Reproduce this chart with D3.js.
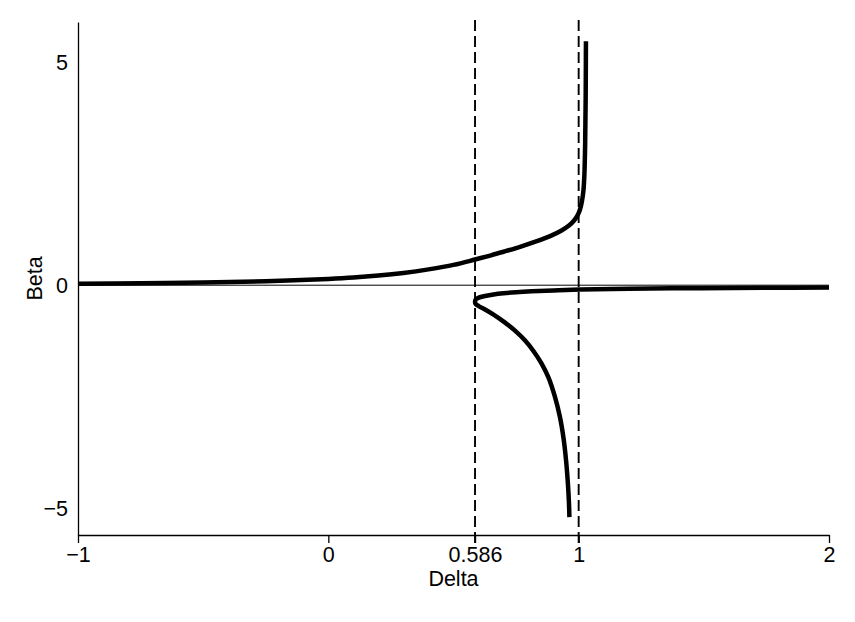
<!DOCTYPE html>
<html>
<head>
<meta charset="utf-8">
<script src="https://cdn.jsdelivr.net/npm/d3@7"></script>
<style>
  body { margin: 0; background: #fff; }
  text { font-family: "Liberation Sans", Arial, Helvetica, sans-serif; fill: #000; }
</style>
</head>
<body>
<div id="chart"></div>
<script>
// x ticks (Delta) and y ticks (Beta)
const xTicks = [-1, 0, 0.586, 1, 2];
const xTickLabels = ['\u22121', '0', '0.586', '1', '2'];
const yTicks = [-5, 0, 5];
const yTickLabels = ['\u22125', '0', '5'];
const guideLines = [0.586, 1];

// upper branch
const upperDelta = [-1, -0.75, -0.5, -0.25, 0, 0.1, 0.2, 0.3, 0.4, 0.5, 0.586, 0.65, 0.7, 0.766, 0.83, 0.886, 0.93, 0.96, 0.98, 0.995, 1.005, 1.013, 1.019, 1.023, 1.026, 1.028, 1.029];
const upperBeta  = [0.03, 0.042, 0.06, 0.09, 0.14, 0.17, 0.215, 0.275, 0.355, 0.455, 0.575, 0.67, 0.75, 0.86, 0.98, 1.1, 1.22, 1.33, 1.44, 1.56, 1.69, 1.88, 2.12, 2.5, 3.2, 4.2, 5.47];

// lower branch, from its bottom end through the turn and out to the right
const lowerDelta = [0.963, 0.961, 0.957, 0.95, 0.94, 0.925, 0.905, 0.88, 0.852, 0.82, 0.786, 0.75, 0.706, 0.66, 0.626, 0.601, 0.589, 0.586, 0.589, 0.601, 0.626, 0.66, 0.7, 0.75, 0.812, 0.9, 1.005, 1.2, 1.485, 1.75, 2.0];
const lowerBeta  = [-5.2, -4.85, -4.45, -3.95, -3.45, -2.95, -2.5, -2.08, -1.76, -1.48, -1.24, -1.04, -0.84, -0.66, -0.545, -0.47, -0.426, -0.374, -0.32, -0.28, -0.243, -0.207, -0.18, -0.158, -0.138, -0.117, -0.098, -0.08, -0.067, -0.058, -0.052];

(function() {
  const W = 855, H = 622;
  const plotLeft = 78, plotRight = 829, plotTop = 22, plotBottom = 535;

  const svg = d3.select('#chart').append('svg')
    .attr('width', W)
    .attr('height', H);

  const x = d3.scaleLinear().domain([-1, 2]).range([plotLeft, plotRight]);
  const y = d3.scaleLinear().domain([-5.6, 5.9]).range([plotBottom, plotTop]);

  // zero line
  svg.append('line')
    .attr('x1', x(-1)).attr('x2', x(2))
    .attr('y1', y(0)).attr('y2', y(0))
    .attr('stroke', '#000').attr('stroke-width', 1);

  // dashed guides
  svg.selectAll('.guide')
    .data(guideLines)
    .enter().append('line')
    .attr('class', 'guide')
    .attr('x1', d => x(d)).attr('x2', d => x(d))
    .attr('y1', plotTop - 2).attr('y2', plotBottom + 8)
    .attr('stroke', '#000')
    .attr('stroke-width', 1.9)
    .attr('stroke-dasharray', '11,5');

  // x axis
  const xAxis = d3.axisBottom(x)
    .tickValues(xTicks)
    .tickFormat((d, i) => xTickLabels[i])
    .tickSize(8)
    .tickPadding(4)
    .tickSizeOuter(0);

  const gx = svg.append('g')
    .attr('transform', `translate(0, ${plotBottom})`)
    .call(xAxis)
    .attr('font-family', null)
    .attr('font-size', 21.5);
  gx.select('.domain').attr('stroke-width', 1.3);
  gx.selectAll('.tick line').attr('stroke-width', 1.3);

  // y axis
  const yAxis = d3.axisLeft(y)
    .tickValues(yTicks)
    .tickFormat((d, i) => yTickLabels[i])
    .tickSize(0)
    .tickPadding(10)
    .tickSizeOuter(0);

  const gy = svg.append('g')
    .attr('transform', `translate(${plotLeft}, 0)`)
    .call(yAxis)
    .attr('font-family', null)
    .attr('font-size', 21.5);
  gy.select('.domain').attr('stroke-width', 1.3);

  // axis titles
  svg.append('text')
    .attr('x', (plotLeft + plotRight) / 2)
    .attr('y', 586)
    .attr('text-anchor', 'middle')
    .attr('font-size', 21.5)
    .text('Delta');

  svg.append('text')
    .attr('transform', `translate(42, ${(plotTop + plotBottom) / 2}) rotate(-90)`)
    .attr('text-anchor', 'middle')
    .attr('font-size', 21.5)
    .text('Beta');

  // curves
  const line = d3.line()
    .x(d => x(d[0]))
    .y(d => y(d[1]))
    .curve(d3.curveCatmullRom.alpha(0.5));

  const upper = upperDelta.map((d, i) => [d, upperBeta[i]]);
  const lower = lowerDelta.map((d, i) => [d, lowerBeta[i]]);

  svg.selectAll('.branch')
    .data([upper, lower])
    .enter().append('path')
    .attr('class', 'branch')
    .attr('d', line)
    .attr('fill', 'none')
    .attr('stroke', '#000')
    .attr('stroke-width', 4.5);
})();
</script>
</body>
</html>
